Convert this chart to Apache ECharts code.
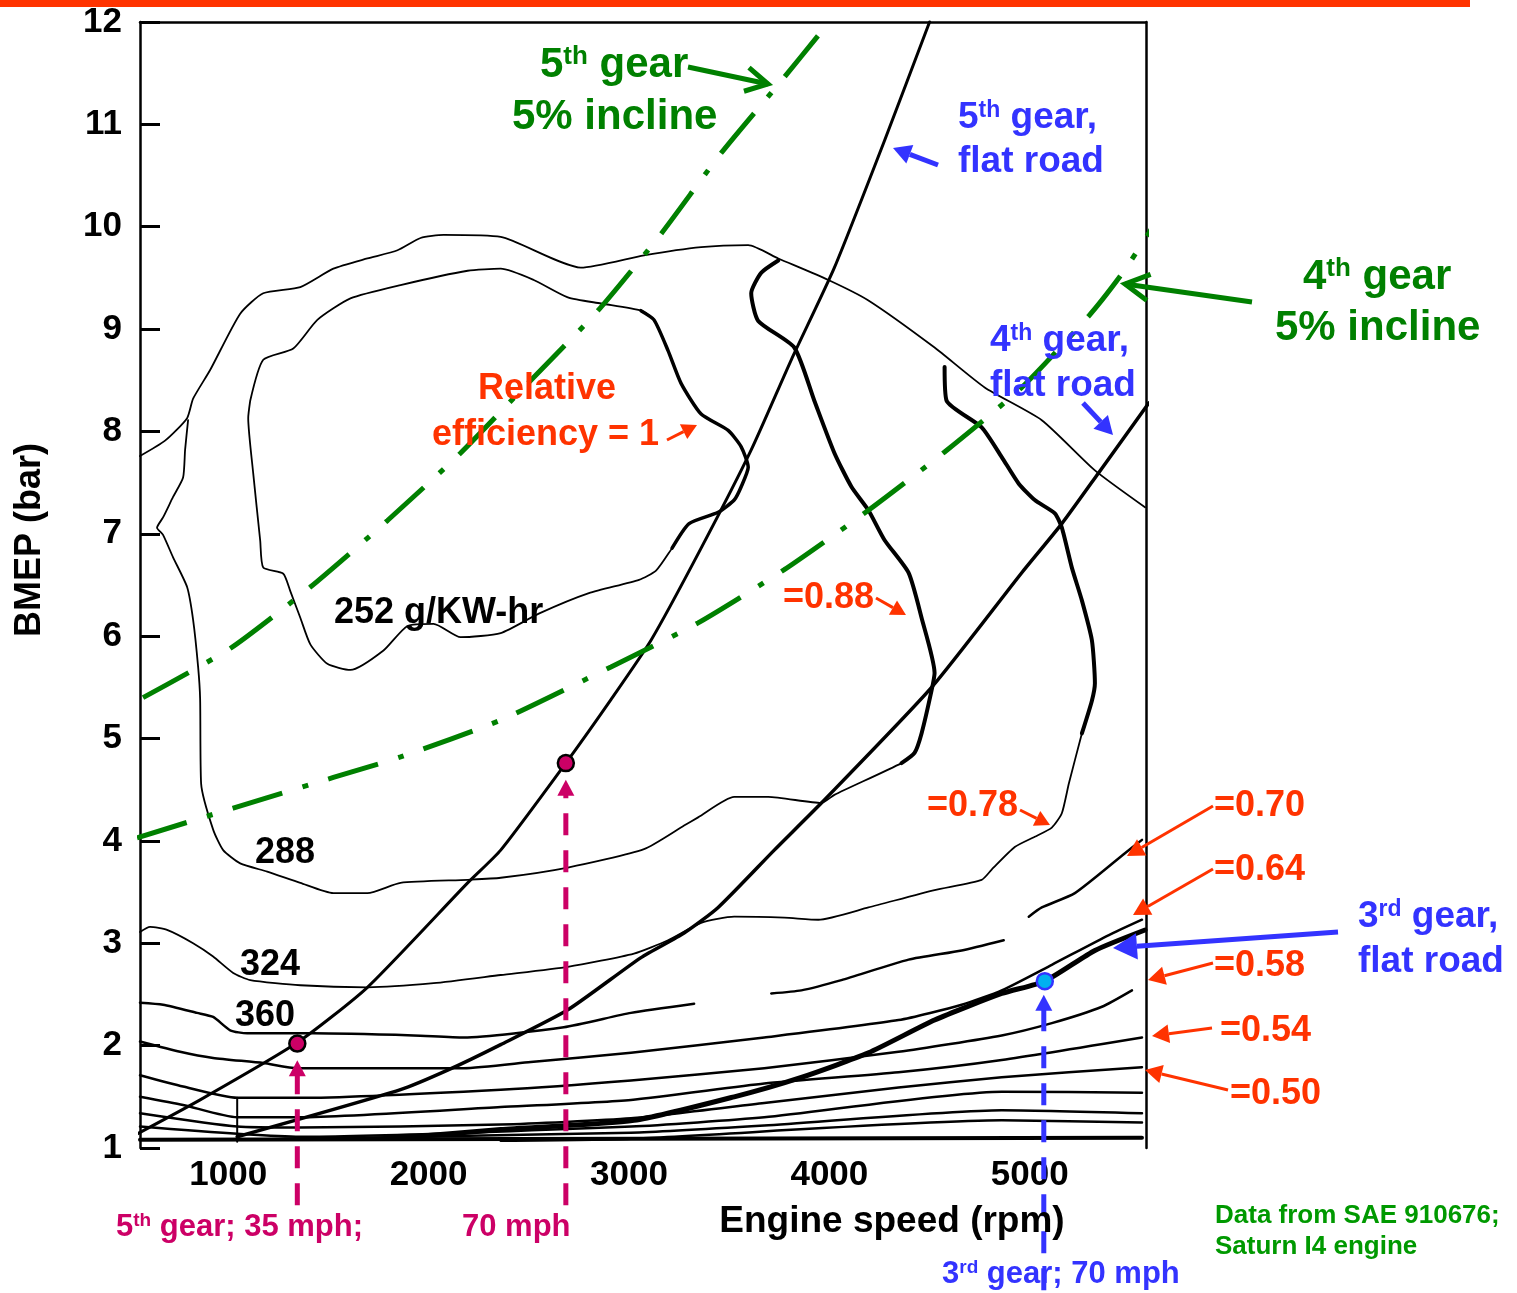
<!DOCTYPE html>
<html>
<head>
<meta charset="utf-8">
<title>BSFC map - Saturn I4</title>
<script src="https://cdn.jsdelivr.net/npm/echarts@6/dist/echarts.min.js"></script>
<style>
  html, body { margin: 0; padding: 0; background: #fff; }
  #main { width: 1517px; height: 1293px; }
</style>
</head>
<body>
<div id="main"></div>
<script>
// axis ticks
const xTicks = [1000, 2000, 3000, 4000, 5000];   // engine speed (rpm)
const yMin = 1, yMax = 12;                        // BMEP (bar)

// [rpm, BMEP bar]
const wotEnvelope = [[560,7.76],[685,7.91],[795,8.13],[825,8.32],[910,8.60],[1060,9.15],[1175,9.35],[1360,9.41],[1525,9.59],[1695,9.69],[1845,9.77],[1960,9.89],[2075,9.92],[2360,9.90],[2760,9.60],[3075,9.72],[3360,9.80],[3595,9.82],[3745,9.69],[3995,9.48],[4195,9.28],[4525,8.82],[4775,8.43],[5060,8.11],[5325,7.62],[5575,7.26]];

const c252 = [[1110,8.30],[1175,8.70],[1325,8.81],[1445,9.09],[1610,9.30],[1860,9.43],[2195,9.57],[2360,9.59],[2525,9.48],[2695,9.31],[2860,9.25],[3060,9.18],[3125,9.09],[3195,8.79],[3260,8.47],[3360,8.17],[3495,8.01],[3560,7.85],[3595,7.65],[3560,7.46],[3525,7.33],[3445,7.21],[3300,7.10],[3215,6.86],[3135,6.64],[3050,6.55],[2800,6.42],[2550,6.22],[2360,6.03],[2160,5.99],[2025,6.12],[1895,6.10],[1775,5.86],[1610,5.67],[1495,5.73],[1410,5.92],[1360,6.18],[1310,6.44],[1275,6.61],[1175,6.67],[1160,6.93],[1125,7.59],[1100,8.13],[1110,8.30]];
const c252Right = [[3060,9.18],[3125,9.09],[3195,8.79],[3260,8.47],[3360,8.17],[3495,8.01],[3560,7.85],[3595,7.65],[3560,7.46],[3525,7.33],[3445,7.21],[3300,7.10],[3215,6.86]];

const c288 = [[800,8.11],[785,7.82],[775,7.55],[725,7.36],[675,7.16],[645,7.06],[675,6.99],[725,6.77],[795,6.48],[825,6.16],[850,5.70],[860,5.39],[865,4.56],[925,4.11],[975,3.91],[1060,3.78],[1195,3.70],[1360,3.59],[1525,3.49],[1695,3.49],[1860,3.59],[2195,3.62],[2360,3.64],[2695,3.74],[3075,3.92],[3275,4.15],[3345,4.23],[3525,4.43],[3695,4.43],[3960,4.37],[4025,4.45],[4360,4.76],[4425,4.86]];
const c288Right = [[4360,4.76],[4425,4.86],[4460,5.05],[4510,5.47],[4525,5.64],[4460,6.18],[4395,6.62],[4275,6.94],[4195,7.23],[4110,7.46],[4025,7.79],[3925,8.30],[3825,8.82],[3645,9.08],[3610,9.35],[3660,9.55],[3745,9.67]];

const c324 = [[560,3.11],[610,3.16],[695,3.13],[825,3.00],[925,2.87],[1025,2.71],[1110,2.64],[1360,2.59],[1695,2.57],[2025,2.61],[2360,2.69],[2695,2.77],[3025,2.90],[3195,3.03],[3360,3.20],[3525,3.26],[3775,3.25],[3945,3.23],[4195,3.35],[4525,3.52],[4760,3.62],[4810,3.72],[4925,3.94],[5025,4.04],[5110,4.13],[5160,4.27],[5195,4.56],[5260,5.05]];
const c324Right = [[5260,5.05],[5310,5.37],[5325,5.54],[5310,5.96],[5260,6.35],[5210,6.67],[5160,7.06],[5125,7.20],[5025,7.33],[4945,7.49],[4860,7.75],[4760,8.04],[4585,8.30],[4575,8.63]];

const c360a = [[560,2.42],[675,2.40],[845,2.32],[925,2.28],[1010,2.15],[1095,2.12],[1425,2.12],[1925,2.10],[2175,2.08],[2675,2.18],[3010,2.32],[3325,2.41]];
const c360b = [[3710,2.51],[3860,2.54],[4060,2.64],[4395,2.84],[4660,2.93],[4870,3.03]];
const c360c = [[4995,3.26],[5060,3.35],[5225,3.49],[5475,3.88],[5560,4.01]];

const c396 = [[560,2.04],[760,1.94],[925,1.88],[1175,1.83],[1345,1.78],[2175,1.78],[2510,1.84],[3010,1.93],[3675,2.08],[4345,2.25],[4660,2.40],[4860,2.54],[5110,2.79],[5395,3.08],[5560,3.23]];
const c432 = [[560,1.71],[775,1.60],[1045,1.49],[1360,1.49],[2360,1.57],[3010,1.66],[3675,1.78],[4345,1.94],[4860,2.10],[5110,2.22],[5360,2.38],[5510,2.54]];
const c468 = [[560,1.50],[775,1.42],[1045,1.30],[1360,1.30],[2360,1.40],[3010,1.47],[3675,1.63],[4345,1.74],[4860,1.86],[5560,2.08]];
const c504 = [[560,1.34],[1045,1.21],[1360,1.20],[2360,1.23],[3010,1.29],[3675,1.44],[4345,1.59],[4860,1.69],[5560,1.79]];
const c540 = [[560,1.21],[1360,1.11],[3010,1.21],[3675,1.30],[4860,1.55],[5560,1.54]];
const c580 = [[1045,1.08],[3010,1.15],[3675,1.22],[4860,1.37],[5560,1.34]];
const c620 = [[2360,1.07],[3010,1.09],[4860,1.27],[5560,1.25]];
const cFloor = [[560,1.08],[5560,1.10]];
const lowBox = [[1045,1.49],[1045,1.06]];

// road load lines
const gear5Flat = [[510,1.10],[860,1.47],[1345,2.03],[1695,2.57],[2195,3.59],[2360,3.91],[2685,4.76],[2910,5.38],[3110,5.96],[3360,6.86],[3610,7.82],[3810,8.70],[4025,9.60],[4275,10.84],[4500,12.0]];
const gear4Flat = [[1045,1.11],[1860,1.57],[2095,1.76],[2360,2.01],[2695,2.35],[3060,2.86],[3275,3.10],[3445,3.35],[3725,3.91],[3960,4.37],[4510,5.50],[4960,6.62],[5160,7.10],[5345,7.60],[5595,8.28]];
const gear3Flat = [[1860,1.10],[2360,1.18],[3025,1.27],[3525,1.50],[3860,1.69],[4195,1.93],[4525,2.25],[4860,2.51],[5075,2.63],[5325,2.93],[5575,3.13]];
const gear5Incline = [[575,5.40],[1010,5.88],[1410,6.48],[1795,7.13],[2160,7.79],[2495,8.47],[2845,9.18],[3160,9.93],[3460,10.72],[3775,11.46],[3945,11.87]];
const gear4Incline = [[545,4.03],[1025,4.32],[1525,4.62],[1860,4.82],[2360,5.18],[2910,5.70],[3345,6.13],[3775,6.65],[4195,7.23],[4575,7.80],[4960,8.43],[5295,9.13],[5460,9.54],[5595,9.94],[5650,10.13]];

// operating points and their guide arrows
const point35mph = [[1345,2.02]];
const point70mph = [[2685,4.76]];
const point3rd70 = [[5075,2.63]];
const guide35 = [[1345,0.44],[1345,1.78]];
const guide70 = [[2685,0.44],[2685,4.52]];
const guide3rd = [[5070,-0.39],[5070,2.42]];

const FF = '"Liberation Sans", Arial, Helvetica, sans-serif';
const RED = '#ff3300', BLUE = '#3333ff', GREEN = '#008000', MAG = '#cc0066', NOTE = '#009900';

function line(name, data, width, color, extra) {
  return Object.assign({
    name: name, type: 'line', data: data, symbol: 'none', clip: false, smooth: 0.2,
    silent: true, z: 2,
    lineStyle: { color: color || '#000', width: width, cap: 'round', join: 'round' }
  }, extra || {});
}

function guide(name, data, color) {
  const d = data.map((p, i) => i === data.length - 1
    ? { value: p, symbol: 'triangle', symbolSize: [17, 16] } : { value: p });
  return {
    name: name, type: 'line', data: d, symbol: 'none', clip: false, silent: true, z: 5,
    itemStyle: { color: color }, showAllSymbol: true,
    lineStyle: { color: color, width: 5, type: [22, 15], cap: 'butt' }
  };
}

function dot(name, data, fill, border) {
  return {
    name: name, type: 'scatter', data: data, symbolSize: 16, clip: false, silent: true, z: 6,
    itemStyle: { color: fill, borderColor: border, borderWidth: 2.5, opacity: 1 }
  };
}

// "^" toggles superscript
function richText(s) {
  return s.split('^').map((p, i) => p ? (i % 2 ? '{s|' + p + '}' : '{n|' + p + '}') : '').join('');
}

function label(x, y, s, color, size, align, rot) {
  return {
    type: 'text', x: x, y: y, rotation: rot || 0, silent: true, z: 20,
    style: {
      text: richText(s), align: align || 'left', verticalAlign: 'middle',
      rich: {
        n: { fontSize: size, fontWeight: 'bold', fontFamily: FF, fill: color },
        s: { fontSize: Math.round(size * 0.62), fontWeight: 'bold', fontFamily: FF, fill: color, verticalAlign: 'top' }
      }
    }
  };
}

function arrow(x1, y1, x2, y2, color, w, head, open) {
  const a = Math.atan2(y2 - y1, x2 - x1);
  const hw = head * 0.55;
  const bx = x2 - head * Math.cos(a), by = y2 - head * Math.sin(a);
  const px = -Math.sin(a) * hw, py = Math.cos(a) * hw;
  const l = [bx + px, by + py], r = [bx - px, by - py];
  if (open) {
    return [
      { type: 'line', silent: true, z: 19, shape: { x1: x1, y1: y1, x2: x2, y2: y2 }, style: { stroke: color, lineWidth: w } },
      { type: 'polyline', silent: true, z: 19, shape: { points: [l, [x2, y2], r] }, style: { stroke: color, lineWidth: w, fill: null } }
    ];
  }
  return [
    { type: 'line', silent: true, z: 19, shape: { x1: x1, y1: y1, x2: bx, y2: by }, style: { stroke: color, lineWidth: w } },
    { type: 'polygon', silent: true, z: 19, shape: { points: [[x2, y2], l, r] }, style: { fill: color } }
  ];
}

const labels = [
  [540, 65, '5^th^ gear', GREEN, 42], [512, 117, '5% incline', GREEN, 42],
  [1303, 277, '4^th^ gear', GREEN, 42], [1275, 328, '5% incline', GREEN, 42],
  [958, 118, '5^th^ gear,', BLUE, 37], [958, 162, 'flat road', BLUE, 37],
  [990, 341, '4^th^ gear,', BLUE, 37], [990, 386, 'flat road', BLUE, 37],
  [1358, 917, '3^rd^ gear,', BLUE, 37], [1358, 962, 'flat road', BLUE, 37],
  [478, 389, 'Relative', RED, 36], [432, 435, 'efficiency = 1', RED, 36],
  [783, 598, '=0.88', RED, 36], [927, 806, '=0.78', RED, 36],
  [1214, 806, '=0.70', RED, 36], [1214, 870, '=0.64', RED, 36],
  [1214, 966, '=0.58', RED, 36], [1220, 1031, '=0.54', RED, 36], [1230, 1094, '=0.50', RED, 36],
  [334, 613, '252 g/KW-hr', '#000', 36], [255, 853, '288', '#000', 36],
  [240, 965, '324', '#000', 36], [235, 1016, '360', '#000', 36],
  [116, 1227, '5^th^ gear; 35 mph;', MAG, 31], [462, 1227, '70 mph', MAG, 31],
  [942, 1274, '3^rd^ gear; 70 mph', BLUE, 31],
  [1215, 1216, 'Data from SAE 910676;', NOTE, 26], [1215, 1247, 'Saturn I4 engine', NOTE, 26]
];

const arrows = [
  [688, 67, 768, 84, GREEN, 5, 22, true], [1252, 302, 1125, 284, GREEN, 5, 24, true],
  [938, 165, 893, 148, BLUE, 5, 18], [1083, 403, 1113, 435, BLUE, 5, 18], [1338, 932, 1113, 948, BLUE, 5, 24],
  [667, 440, 697, 425, RED, 3, 15], [876, 598, 906, 615, RED, 3, 15], [1020, 810, 1050, 825, RED, 3, 15],
  [1213, 806, 1127, 856, RED, 3, 17], [1213, 869, 1133, 915, RED, 3, 17], [1213, 963, 1148, 980, RED, 3, 17],
  [1212, 1028, 1152, 1036, RED, 3, 17], [1228, 1090, 1145, 1070, RED, 3, 17]
];

const graphics = [{ type: 'rect', silent: true, shape: { x: 0, y: 0, width: 1470, height: 7 }, style: { fill: RED } }];
labels.forEach(l => graphics.push(label(l[0], l[1], l[2], l[3], l[4])));
graphics.push(label(892, 1222, 'Engine speed (rpm)', '#000', 37, 'center'));
graphics.push(label(30, 540, 'BMEP (bar)', '#000', 36, 'center', Math.PI / 2));
arrows.forEach(a => graphics.push.apply(graphics, arrow(a[0], a[1], a[2], a[3], a[4], a[5], a[6], a[7])));

const frame = { show: true, onZero: false, lineStyle: { color: '#000', width: 2.5 } };
const dashDot = [52, 21, 6, 21];
const plain = v => String(v);

const chart = echarts.init(document.getElementById('main'));
const option = {
  animation: false,
  backgroundColor: '#fff',
  grid: { left: 140, top: 22, width: 1006, height: 1126 },
  xAxis: [
    { type: 'value', min: 560, max: 5580, position: 'bottom', axisLine: { show: false }, axisTick: { show: false }, splitLine: { show: false },
      axisLabel: { customValues: xTicks, formatter: plain, fontSize: 35, fontWeight: 'bold', fontFamily: FF, color: '#000', margin: 10 } },
    { type: 'value', min: 560, max: 5580, position: 'top', axisLine: frame, axisTick: { show: false }, axisLabel: { show: false }, splitLine: { show: false } }
  ],
  yAxis: [
    { type: 'value', min: yMin, max: yMax, interval: 1, axisLine: frame, splitLine: { show: false },
      axisTick: { show: true, inside: true, length: 20, lineStyle: { color: '#000', width: 3 } },
      axisLabel: { formatter: plain, fontSize: 35, fontWeight: 'bold', fontFamily: FF, color: '#000', margin: 18 } },
    { type: 'value', min: yMin, max: yMax, position: 'right', axisLine: frame, axisTick: { show: false }, axisLabel: { show: false }, splitLine: { show: false } }
  ],
  series: [
    line('WOT', wotEnvelope, 1.8),
    line('252', c252, 1.8),
    line('252 thick', c252Right, 3.5),
    line('288', c288, 1.8),
    line('288 thick', c288Right, 4),
    line('324', c324, 1.8),
    line('324 thick', c324Right, 4),
    line('360a', c360a, 2.5),
    line('360b', c360b, 2.5),
    line('360c', c360c, 2.5),
    line('396', c396, 2.5),
    line('432', c432, 2.5),
    line('468', c468, 2.5),
    line('504', c504, 2.5),
    line('540', c540, 2.5),
    line('580', c580, 2.5),
    line('620', c620, 2.5),
    line('floor', cFloor, 4),
    line('low box', lowBox, 2, '#000', { smooth: false }),
    line('5th flat', gear5Flat, 3, '#000', { z: 3 }),
    line('4th flat', gear4Flat, 3.5, '#000', { z: 3 }),
    line('3rd flat', gear3Flat, 5, '#000', { z: 3 }),
    line('5th incline', gear5Incline, 5, GREEN, { z: 4, lineStyle: { color: GREEN, width: 5, type: dashDot, cap: 'butt' } }),
    line('4th incline', gear4Incline, 5, GREEN, { z: 4, lineStyle: { color: GREEN, width: 5, type: dashDot, cap: 'butt' } }),
    guide('35 mph guide', guide35, MAG),
    guide('70 mph guide', guide70, MAG),
    guide('3rd gear guide', guide3rd, BLUE),
    dot('35 mph', point35mph, MAG, '#000'),
    dot('70 mph', point70mph, MAG, '#000'),
    dot('3rd 70 mph', point3rd70, '#00b0f0', BLUE)
  ],
  graphic: graphics
};
chart.setOption(option);
</script>
</body>
</html>
